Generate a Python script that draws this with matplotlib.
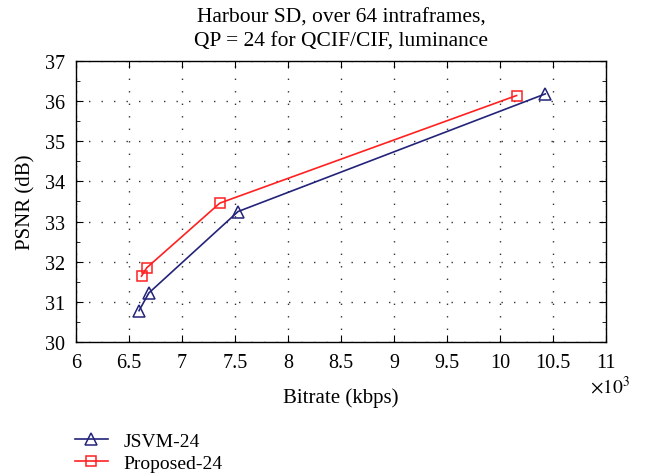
import matplotlib
matplotlib.use("Agg")
import matplotlib.pyplot as plt
from matplotlib.ticker import MultipleLocator

plt.rcParams['font.family'] = ['Liberation Serif', 'DejaVu Serif']
plt.rcParams['mathtext.fontset'] = 'stix'

jsvm_x = [6.594, 6.686, 7.528, 10.425]
jsvm_y = [30.78, 31.22, 33.25, 36.18]
prop_x = [6.617, 6.667, 7.356, 10.155]
prop_y = [31.64, 31.85, 33.46, 36.14]
xticks = [6, 6.5, 7, 7.5, 8, 8.5, 9, 9.5, 10, 10.5, 11]
xticklabels = ['6', '6.5', '7', '7.5', '8', '8.5', '9', '9.5', '10', '10.5', '11']
yticks = [30, 31, 32, 33, 34, 35, 36, 37]

fig = plt.figure(figsize=(6.56, 4.77), dpi=100)
ax = fig.add_axes([0.116, 0.281, 0.808, 0.589])

l1, = ax.plot(jsvm_x, jsvm_y, color='#23237a', lw=1.2, marker='^', ms=8,
              mfc='none', mec='#23237a', mew=1.1, label='JSVM-24')
l2, = ax.plot(prop_x, prop_y, color='#ff2020', lw=1.2, marker='s', ms=7.5,
              mfc='none', mec='#ff2020', mew=1.1, label='Proposed-24')

ax.set_xlim(6, 11)
ax.set_ylim(30, 37)
ax.set_xticks(xticks)
ax.set_xticklabels(xticklabels)
ax.set_yticks(yticks)
ax.yaxis.set_minor_locator(MultipleLocator(0.5))
ax.tick_params(which='both', direction='in', top=True, right=True)
ax.tick_params(which='major', labelsize=14.5, length=5)
ax.tick_params(axis='x', which='major', pad=8)
ax.tick_params(axis='y', which='major', pad=8)
ax.tick_params(which='minor', length=3)
ax.grid(True, which='major', color='#333333', linestyle=(0, (1, 8)), linewidth=1.0)
for s in ax.spines.values():
    s.set_linewidth(1.0)

ax.set_xlabel('Bitrate (kbps)', fontsize=15, labelpad=11)
ax.set_ylabel('PSNR (dB)', fontsize=15, labelpad=7)
ax.set_title('Harbour SD, over 64 intraframes,\nQP = 24 for QCIF/CIF, luminance',
             fontsize=15.5, pad=11, linespacing=1.35)
fig.text(0.899, 0.190, r'$\times10^3$', fontsize=14, ha='left', va='center')

fig.legend(handles=[l1, l2], loc='center left', bbox_to_anchor=(0.114, 0.05),
           frameon=False, fontsize=14, handlelength=1.7, labelspacing=0.22,
           borderaxespad=0, borderpad=0, handletextpad=0.8)

fig.savefig('out.png', dpi=100)
